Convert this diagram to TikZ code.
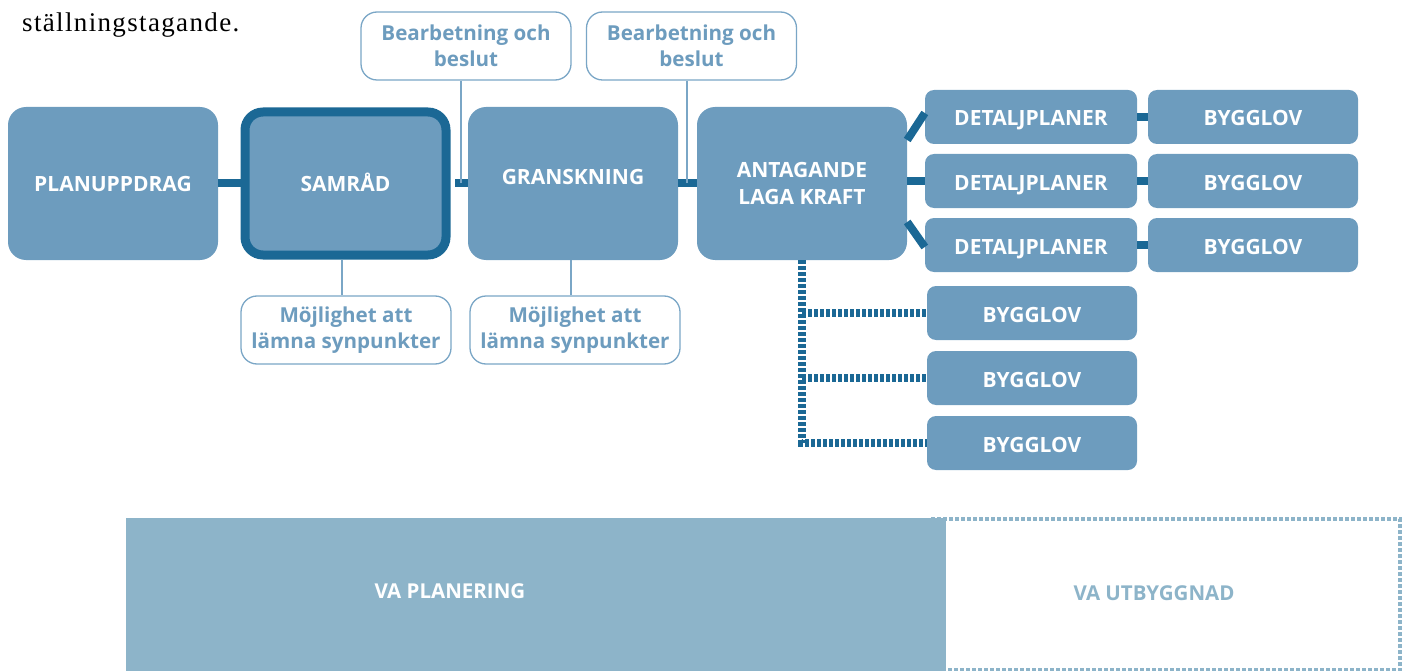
\documentclass[tikz,border=0pt]{standalone}
\usepackage{fontspec}
\setmainfont{Open Sans}
\newfontfamily\seriffont[LetterSpace=5]{Liberation Serif}
\definecolor{boxfill}{HTML}{6D9CBE}
\definecolor{darkline}{HTML}{1B6895}
\definecolor{lightline}{HTML}{7AA6C6}
\definecolor{vafill}{HTML}{8DB4C9}
\tikzset{
  bigbox/.style={rectangle, rounded corners=18pt, fill=boxfill, minimum width=210pt, minimum height=153pt, inner sep=0pt, text=white, align=center, font=\bfseries\fontsize{21}{27}\selectfont},
  notebox/.style={rectangle, rounded corners=16pt, draw=lightline, line width=1.3pt, fill=white, minimum width=210pt, minimum height=68pt, inner sep=0pt, text=boxfill, align=center, font=\bfseries\fontsize{20.6}{26}\selectfont},
  smallbox/.style={rectangle, rounded corners=9pt, fill=boxfill, minimum width=210pt, minimum height=54pt, inner sep=0pt, text height=20pt, text depth=2pt, text=white, font=\bfseries\fontsize{21}{24}\selectfont},
  thickcon/.style={draw=darkline, line width=8pt},
  thincon/.style={draw=lightline, line width=1.3pt},
  dotcon/.style={draw=darkline, line width=7.5pt, dash pattern=on 3.6pt off 2.4pt},
}
\begin{document}
\begin{tikzpicture}[x=1pt, y=-1pt]
\useasboundingbox (0,0) rectangle (1407,671);

% top-left text
\node[anchor=base west, inner sep=0pt, font=\seriffont\fontsize{27}{30}\selectfont] (intro) at (22,32) {ställningstagande.};

% main boxes
\node[bigbox] (plan) at (113,183.5) {PLANUPPDRAG};
\node[bigbox, draw=darkline, line width=9pt, minimum width=201pt, minimum height=143pt] (samr) at (345.5,183.5) {\raisebox{2pt}{SAMRÅD}};
\node[bigbox] (gran) at (573,183.5) {\raisebox{14pt}{GRANSKNING}};
\node[bigbox] (ant) at (802,183.5) {ANTAGANDE\\LAGA KRAFT};

% note boxes
\node[notebox] (b1) at (466,46) {Bearbetning och\\beslut};
\node[notebox] (b2) at (691.5,46) {Bearbetning och\\beslut};
\node[notebox] (m1) at (346,330) {Möjlighet att\\lämna synpunkter};
\node[notebox] (m2) at (575,330) {Möjlighet att\\lämna synpunkter};

% detaljplaner and bygglov
\node[smallbox, minimum width=212pt] (d1) at (1031,117) {DETALJPLANER};
\node[smallbox, minimum width=212pt] (d2) at (1031,181) {DETALJPLANER};
\node[smallbox, minimum width=212pt] (d3) at (1031,245) {DETALJPLANER};
\node[smallbox] (r1) at (1253,117) {BYGGLOV};
\node[smallbox] (r2) at (1253,181) {BYGGLOV};
\node[smallbox] (r3) at (1253,245) {BYGGLOV};
\node[smallbox] (l1) at (1032,313) {BYGGLOV};
\node[smallbox] (l2) at (1032,378) {BYGGLOV};
\node[smallbox] (l3) at (1032,443) {BYGGLOV};

% connectors on the main line
\path[thickcon] (plan.east) -- (samr.west);
\path[thickcon] ([xshift=4.5pt]samr.east) -- (gran.west);
\path[thickcon] (gran.east) -- (ant.west);
\path[thickcon] ([yshift=43.5pt]ant.east) -- ([yshift=4pt]d1.west);
\path[thickcon] (ant.east |- d2.west) -- (d2.west);
\path[thickcon] ([yshift=-38.5pt]ant.east) -- ([yshift=-2pt]d3.west);
\path[thickcon] (d1.east) -- (r1.west);
\path[thickcon] (d2.east) -- (r2.west);
\path[thickcon] (d3.east) -- (r3.west);

% thin connectors to note boxes
\path[thincon] ([xshift=-5pt]b1.south) -- ([xshift=-5pt]b1.south |- gran.west);
\path[thincon] ([xshift=-4.5pt]b2.south) -- ([xshift=-4.5pt]b2.south |- gran.west);
\path[thincon] ([xshift=-4pt]m1.north |- samr.south) -- ([xshift=-4pt]m1.north);
\path[thincon] ([xshift=-4pt]m2.north |- gran.south) -- ([xshift=-4pt]m2.north);

% dotted connectors to bygglov
\coordinate (dtop) at (ant.south);
\path[dotcon] (dtop) -- (dtop |- l3.west) -- (l3.west);
\path[dotcon] (dtop |- l1.west) -- (l1.west);
\path[dotcon] (dtop |- l2.west) -- (l2.west);

% VA
\node[rectangle, draw=vafill, line width=3.5pt, dash pattern=on 4pt off 2pt, minimum width=470pt, minimum height=151pt, inner sep=0pt, text=vafill, font=\bfseries\fontsize{20.5}{24}\selectfont] (vaut) at (1165,594.5) {\hspace{-22pt}\raisebox{3pt}{VA UTBYGGNAD}};
\node[rectangle, fill=vafill, minimum width=820pt, minimum height=153pt, inner sep=0pt] (vapl) at (536,594.5) {};
\node[text=white, font=\bfseries\fontsize{20.5}{24}\selectfont, inner sep=0pt] (vapltext) at (450,591) {VA PLANERING};
\end{tikzpicture}
\end{document}
